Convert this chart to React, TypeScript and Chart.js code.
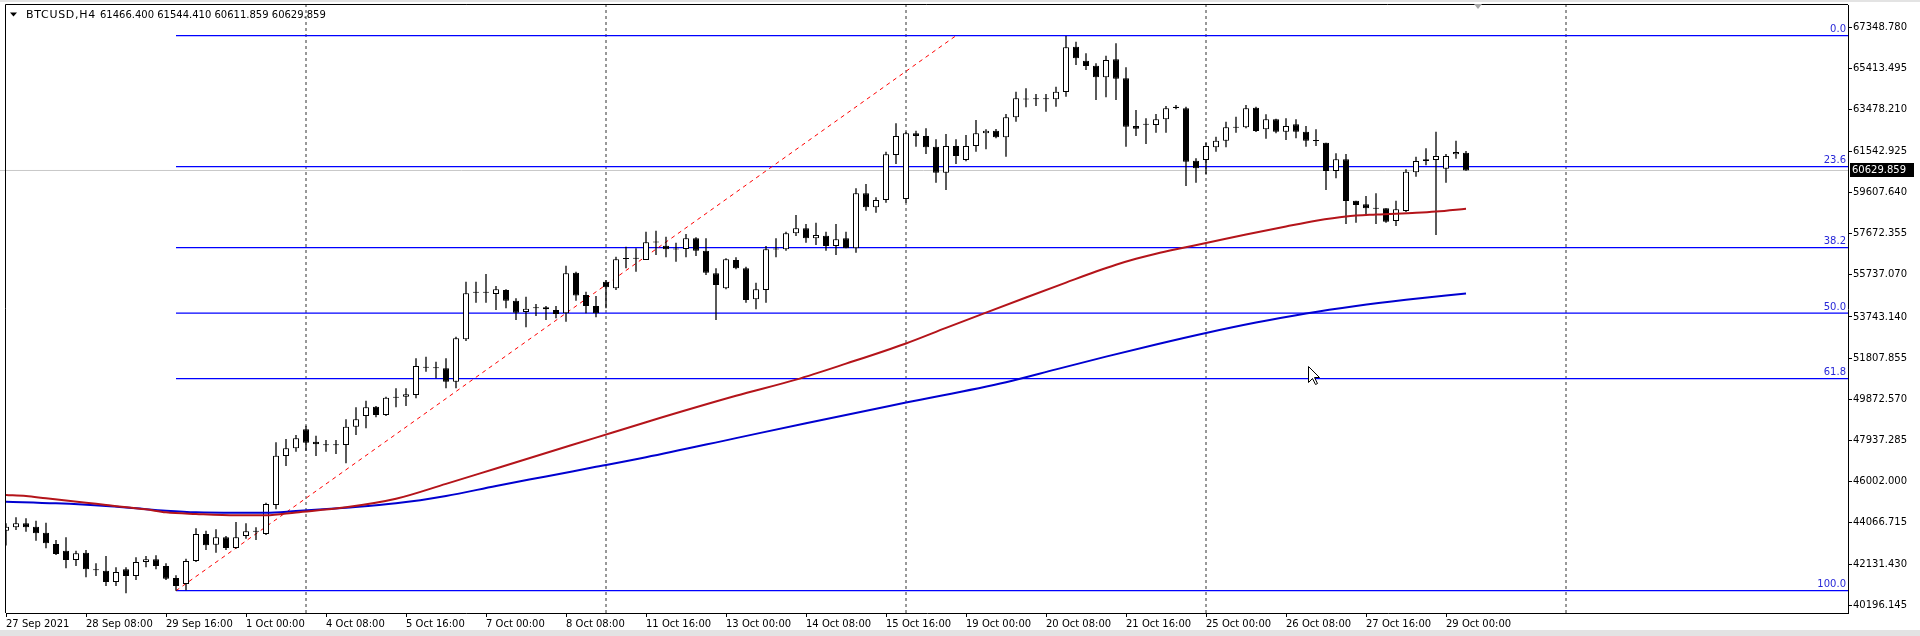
import React, { useEffect, useRef } from 'react';
import { Chart, registerables } from 'chart.js';

Chart.register(...registerables);

// ---- data (BTCUSD, H4) ----
const opens = [
  43701, 43857, 44045, 43889, 43607, 43074, 42761, 42322, 42667, 41870,
  41821, 41288, 41883, 41570, 42228, 42353, 42040, 41476, 41194, 42275,
  43544, 43043, 43387, 42886, 43450, 43650, 43544, 44907, 47210, 47570,
  48463, 47884, 47740, 47720, 47727, 48589, 49090, 49529, 49137, 49950,
  49999, 50077, 51380, 51340, 51330, 50704, 52693, 54880, 54890, 54824,
  55012, 54511, 53978, 54150, 54197, 54072, 53915, 55825, 54777, 54260,
  55404, 55090, 56470, 56490, 56422, 57240, 57096, 56930, 56939, 57440,
  56861, 55795, 55090, 56422, 56030, 54573, 55012, 56920, 56923, 57675,
  57910, 57440, 57566, 57080, 57440, 56970, 59555, 58897, 59242, 61357,
  59289, 62375, 62250, 61749, 60526, 61780, 61122, 61780, 62375, 62501,
  62187, 63127, 63990, 63980, 64000, 63973, 64318, 66449, 65791, 65556,
  65007, 65853, 64960, 62720, 62780, 62767, 63033, 63629, 63550, 61091,
  61122, 61717, 62031, 62640, 62657, 63582, 62563, 63033, 62454, 62798,
  62454, 62030, 61937, 60605, 61153, 59211, 59038, 58840, 58850, 58255,
  58725, 60542, 61153, 61122, 60715, 61388, 61466.4,
];
const highs = [
  44045, 44327, 44280, 44171, 44077, 43262, 43387, 42761, 42792, 42165,
  42510, 41977, 41977, 42447, 42510, 42541, 42165, 41601, 42385, 43810,
  43701, 43763, 43450, 44108, 44045, 43857, 45016, 47852, 48009, 48197,
  48636, 48166, 47962, 47962, 48933, 49497, 49811, 49560, 49999, 50390,
  50390, 51800, 51879, 51644, 51800, 52819, 55404, 55404, 55760, 55200,
  55043, 54620, 54699, 54354, 54260, 54260, 56154, 55872, 54934, 54730,
  55482, 56579, 57049, 56970, 57754, 57801, 57519, 57237, 57644, 57487,
  57440, 56030, 56500, 56547, 56109, 55357, 57080, 57440, 57754, 58537,
  58114, 58177, 57754, 58114, 57754, 59800, 59994, 59367, 61514, 62845,
  62454, 62501, 62610, 62093, 62344, 62093, 62297, 63002, 62563, 62580,
  63284, 64334, 64490, 64224, 64224, 64569, 66950, 66684, 66135, 65665,
  66026, 66605, 65477, 63472, 63080, 63284, 63660, 63707, 63629, 61200,
  61937, 62219, 62924, 63159, 63707, 63629, 63268, 63065, 63080, 63033,
  62720, 62563, 61937, 61435, 61404, 59211, 59430, 59555, 58850, 59211,
  60683, 61279, 61670, 62454, 61404, 62031, 61544.41,
];
const lows = [
  43000, 43732, 43654, 43231, 42870, 42557, 41930, 42040, 41507, 41570,
  41100, 41100, 40755, 41382, 41977, 41883, 41382, 40880, 40900, 42228,
  42792, 42667, 42792, 42854, 43325, 43262, 43497, 44703, 46740, 47414,
  47461, 47210, 47414, 47304, 46865, 48197, 48510, 49027, 49090, 49497,
  49560, 49920, 51174, 50860, 50390, 50390, 52615, 54417, 54417, 54072,
  54150, 53602, 53257, 53790, 53602, 53680, 53524, 54509, 53915, 53727,
  54150, 55012, 56030, 55874, 56422, 56657, 56547, 56344, 56547, 56610,
  55717, 53602, 55043, 55983, 54417, 54103, 54417, 56547, 56861, 57550,
  57237, 57127, 56861, 56657, 56970, 56767, 58740, 58647, 59117, 60934,
  59117, 61749, 61404, 60057, 59712, 60934, 61059, 61514, 61623, 62140,
  61278, 62924, 63597, 63660, 63394, 63629, 64099, 65587, 65352, 63942,
  64067, 63942, 61749, 62250, 61874, 62407, 62407, 63503, 59900, 60057,
  60464, 61514, 61717, 62407, 62610, 62438, 62125, 62375, 62062, 62140,
  61749, 61780, 59712, 60260, 58114, 58177, 58584, 58114, 58177, 58020,
  58678, 60339, 60871, 57597, 60057, 61185, 60611.859,
];
const closes = [
  43889, 44045, 43857, 43575, 43105, 42604, 42322, 42635, 41883, 41840,
  41288, 41758, 41570, 42228, 42353, 42040, 41445, 41100, 42275, 43544,
  43011, 43387, 42886, 43387, 43669, 43680, 44954, 47226, 47570, 48040,
  47837, 47758, 47720, 47740, 48589, 48933, 49497, 49137, 49952, 49980,
  50108, 51440, 51360, 51330, 50704, 52740, 54855, 54900, 54880, 55043,
  54511, 53947, 54135, 54170, 54103, 53884, 55797, 54750, 54260, 53915,
  55137, 56453, 56500, 56480, 57252, 57260, 56923, 56910, 57440, 56861,
  55827, 55247, 56453, 56030, 54542, 55043, 56923, 56940, 57675, 57910,
  57440, 57597, 57080, 57393, 56970, 59560, 58897, 59242, 61388, 62250,
  62375, 62250, 61717, 60526, 61780, 61310, 61780, 62375, 62501, 62187,
  63127, 64020, 63970, 64010, 63973, 64334, 66417, 65900, 65540, 65007,
  65822, 64945, 62689, 62595, 62800, 63033, 63550, 63566, 61044, 60730,
  61780, 62031, 62657, 62670, 63550, 62485, 63033, 62454, 62720, 62454,
  62031, 62010, 60605, 61153, 59195, 59007, 58850, 58830, 58224, 58803,
  60574, 61075, 61075, 61310, 61310, 61498, 60629.859,
];

// moving averages, read at sampled bars
const maRedBars = [0, 2, 4, 8, 10, 14, 16, 19, 23, 26, 29, 34, 39, 44, 49, 54, 59, 64, 73, 79, 84, 90, 94, 98, 102, 106, 109, 111, 113, 115, 117, 120, 124, 128, 131, 134, 137, 141, 143, 146];
const maRedValues = [45377, 45330, 45220, 45017, 44907, 44703, 44562, 44484, 44420, 44420, 44560, 44800, 45200, 45900, 46625, 47350, 48075, 48800, 50040, 50800, 51550, 52500, 53230, 53950, 54660, 55360, 55880, 56200, 56480, 56720, 56930, 57220, 57620, 58000, 58270, 58470, 58560, 58640, 58700, 58835];
const maBlueBars = [0, 5, 10, 13, 16, 19, 23, 26, 29, 34, 39, 44, 49, 54, 59, 64, 73, 80, 90, 100, 105, 110, 115, 120, 125, 130, 135, 140, 146];
const maBlueValues = [45064, 44985, 44860, 44750, 44640, 44562, 44540, 44540, 44620, 44781, 44985, 45330, 45800, 46250, 46700, 47150, 48050, 48750, 49720, 50680, 51280, 51880, 52450, 52990, 53480, 53910, 54260, 54550, 54850];

// axes
const xTickBars = [0, 8, 16, 24, 32, 40, 48, 56, 64, 72, 80, 88, 96, 104, 112, 120, 128, 136, 144];
const xTickLabels = [
  '27 Sep 2021', '28 Sep 08:00', '29 Sep 16:00', '1 Oct 00:00', '4 Oct 08:00', '5 Oct 16:00',
  '7 Oct 00:00', '8 Oct 08:00', '11 Oct 16:00', '13 Oct 00:00', '14 Oct 08:00', '15 Oct 16:00',
  '19 Oct 00:00', '20 Oct 08:00', '21 Oct 16:00', '25 Oct 00:00', '26 Oct 08:00', '27 Oct 16:00', '29 Oct 00:00',
];
const yTickValues = [
  67348.78, 65413.495, 63478.21, 61542.925, 59607.64, 57672.355, 55737.07,
  53743.14, 51807.855, 49872.57, 47937.285, 46002.0, 44066.715, 42131.43, 40196.145,
];
const weekSeparatorBars = [30, 60, 90, 120, 156];

// Fibonacci retracement
const fibLevels = [0.0, 23.6, 38.2, 50.0, 61.8, 100.0];
const fibHighPrice = 66964;
const fibLowPrice = 40879;
const fibLowBar = 17;
const fibHighBar = 95;

const symbolTitle = 'BTCUSD,H4';

const Y_MIN = 39831;
const Y_MAX = 68407;
const X_MIN = 0;
const X_MAX = 184.2;

const FONT = '"DejaVu Sans", Verdana, sans-serif';

export default function App() {
  const ref = useRef<HTMLCanvasElement | null>(null);

  useEffect(() => {
    document.body.style.margin = '0';
    const canvas = ref.current;
    if (!canvas) return;

    const n = closes.length;
    const bars = opens.map((_, i) => i);
    const wickData = bars.map((i) => ({ x: i, y: [lows[i], highs[i]] }));
    const bodyData = bars.map((i) => ({ x: i, y: [opens[i], closes[i]] }));
    const bodyColors = bars.map((i) => (closes[i] >= opens[i] ? '#ffffff' : '#000000'));

    const lastClose = closes[n - 1];
    const fibPrices = fibLevels.map((l) => fibHighPrice - (fibHighPrice - fibLowPrice) * l / 100);

    const fibDatasets = fibPrices.map((p) => ({
      type: 'line' as const,
      data: [{ x: fibLowBar, y: p }, { x: X_MAX, y: p }],
      borderColor: '#0000ff',
      borderWidth: 1.2,
      pointRadius: 0,
      order: 6,
      clip: 0,
    }));

    const sepData: any[] = [];
    weekSeparatorBars.forEach((b) => {
      sepData.push({ x: b, y: Y_MIN }, { x: b, y: Y_MAX }, { x: b, y: null });
    });

    const overlay = {
      id: 'mt4overlay',
      beforeDraw(chart: any) {
        const c = chart.ctx;
        c.save();
        c.fillStyle = '#ffffff';
        c.fillRect(0, 0, chart.width, chart.height);
        c.fillStyle = '#e3e3e3';
        c.fillRect(0, 0, chart.width, 2);
        c.fillRect(0, 630, chart.width, 6);
        c.restore();
      },
      afterDatasetsDraw(chart: any) {
        const c = chart.ctx;
        const a = chart.chartArea;
        const xs = chart.scales.x;
        const ys = chart.scales.y;
        c.save();
        // frame
        c.strokeStyle = '#000000';
        c.lineWidth = 1;
        c.beginPath();
        c.moveTo(a.left - 0.5, a.bottom);
        c.lineTo(a.left - 0.5, a.top - 0.5);
        c.lineTo(a.right, a.top - 0.5);
        c.stroke();

        // fib labels
        c.font = '10px ' + FONT;
        c.fillStyle = '#2828d8';
        c.textAlign = 'right';
        c.textBaseline = 'bottom';
        fibLevels.forEach((l, k) => {
          const y = ys.getPixelForValue(fibPrices[k]);
          c.fillText(l.toFixed(1), a.right - 2, y - 1);
        });

        // header
        c.fillStyle = '#000000';
        c.beginPath();
        c.moveTo(10, 12.5);
        c.lineTo(17, 12.5);
        c.lineTo(13.5, 16.5);
        c.closePath();
        c.fill();
        c.textAlign = 'left';
        c.textBaseline = 'middle';
        c.font = '11px ' + FONT;
        c.letterSpacing = '0.7px';
        c.fillText(symbolTitle, 26, 15);
        c.letterSpacing = '0px';
        c.font = '10px ' + FONT;
        const ohlc = [opens[n - 1], highs[n - 1], lows[n - 1], closes[n - 1]].map((v) => v.toFixed(3)).join(' ');
        c.fillText(ohlc, 100, 15);

        // chart shift marker
        const sx = xs.getPixelForValue(147.2);
        c.fillStyle = '#a8a8a8';
        c.beginPath();
        c.moveTo(sx - 4, a.top - 1);
        c.lineTo(sx + 4, a.top - 1);
        c.lineTo(sx, a.top + 4);
        c.closePath();
        c.fill();

        // current price label on the axis
        const py = Math.round(ys.getPixelForValue(lastClose));
        c.fillStyle = '#000000';
        c.fillRect(a.right + 2, py - 7, 64, 14);
        c.fillStyle = '#ffffff';
        c.textAlign = 'left';
        c.textBaseline = 'middle';
        c.fillText(lastClose.toFixed(3), a.right + 4, py);

        // mouse pointer
        const tx = 1308.5;
        const ty = 366.5;
        c.beginPath();
        c.moveTo(tx, ty);
        c.lineTo(tx, ty + 16);
        c.lineTo(tx + 4, ty + 12);
        c.lineTo(tx + 7, ty + 18);
        c.lineTo(tx + 9, ty + 17);
        c.lineTo(tx + 6, ty + 11);
        c.lineTo(tx + 11, ty + 11);
        c.closePath();
        c.fillStyle = '#ffffff';
        c.fill();
        c.strokeStyle = '#000000';
        c.stroke();
        c.restore();
      },
    };

    const chart = new Chart(canvas, {
      type: 'bar',
      data: {
        datasets: [
          {
            type: 'line',
            data: maRedBars.map((b, k) => ({ x: b, y: maRedValues[k] })),
            borderColor: '#b4141a',
            borderWidth: 2,
            pointRadius: 0,
            tension: 0.3,
            cubicInterpolationMode: 'monotone',
            order: 0,
            clip: 0,
          } as any,
          {
            type: 'line',
            data: maBlueBars.map((b, k) => ({ x: b, y: maBlueValues[k] })),
            borderColor: '#0000d0',
            borderWidth: 2,
            pointRadius: 0,
            cubicInterpolationMode: 'monotone',
            order: 0,
            clip: 0,
          } as any,
          {
            type: 'bar',
            data: bodyData,
            backgroundColor: bodyColors,
            borderColor: '#000000',
            borderWidth: 1,
            borderSkipped: false,
            barThickness: 6,
            minBarLength: 1,
            grouped: false,
            inflateAmount: 0,
            order: 2,
            clip: 0,
          } as any,
          {
            type: 'bar',
            data: wickData,
            backgroundColor: '#000000',
            borderWidth: 0,
            barThickness: 1.3,
            grouped: false,
            inflateAmount: 0,
            order: 3,
            clip: 0,
          } as any,
          {
            type: 'line',
            data: [{ x: X_MIN - 1, y: lastClose }, { x: X_MAX, y: lastClose }],
            borderColor: '#c8c8c8',
            borderWidth: 1,
            pointRadius: 0,
            order: 5,
            clip: { left: 6, top: 0, right: 0, bottom: 0 },
          } as any,
          {
            type: 'line',
            data: [{ x: fibLowBar, y: fibLowPrice }, { x: fibHighBar, y: fibHighPrice }],
            borderColor: '#ff0000',
            borderWidth: 1,
            borderDash: [4, 4],
            pointRadius: 0,
            order: 4,
            clip: 0,
          } as any,
          ...(fibDatasets as any[]),
          {
            type: 'line',
            data: sepData,
            borderColor: '#333333',
            borderWidth: 1,
            borderDash: [3, 3],
            pointRadius: 0,
            spanGaps: false,
            order: 7,
            clip: 0,
          } as any,
        ],
      },
      options: {
        responsive: false,
        animation: false,
        devicePixelRatio: 1,
        layout: { padding: { left: 6, top: 5, right: 0, bottom: 0 } },
        plugins: { legend: { display: false }, tooltip: { enabled: false } },
        events: [],
        scales: {
          x: {
            type: 'linear',
            min: X_MIN,
            max: X_MAX,
            offset: false,
            afterBuildTicks: (s: any) => {
              s.ticks = xTickBars.map((v) => ({ value: v }));
            },
            afterFit: (s: any) => {
              s.height = 23;
              s.paddingLeft = 0;
              s.paddingRight = 0;
            },
            ticks: {
              autoSkip: false,
              maxRotation: 0,
              minRotation: 0,
              align: 'start',
              padding: 1,
              color: '#000000',
              font: { family: FONT, size: 10 },
              callback: (_v: any, idx: number) => xTickLabels[idx],
            },
            grid: { drawOnChartArea: false, drawTicks: true, tickLength: 4, color: '#000000', offset: false },
            border: { display: true, color: '#000000' },
          },
          y: {
            type: 'linear',
            position: 'right',
            min: Y_MIN,
            max: Y_MAX,
            afterBuildTicks: (s: any) => {
              s.ticks = yTickValues.map((v) => ({ value: v }));
            },
            afterFit: (s: any) => {
              s.width = 72;
              s.paddingTop = 0;
              s.paddingBottom = 0;
            },
            ticks: {
              padding: 1,
              color: '#000000',
              font: { family: FONT, size: 10 },
              callback: (v: any) => Number(v).toFixed(3),
            },
            grid: { drawOnChartArea: false, drawTicks: true, tickLength: 4, color: '#000000' },
            border: { display: true, color: '#000000' },
          },
        },
      } as any,
      plugins: [overlay],
    });

    return () => chart.destroy();
  }, []);

  return <canvas ref={ref} width={1920} height={636} style={{ display: 'block' }} />;
}
